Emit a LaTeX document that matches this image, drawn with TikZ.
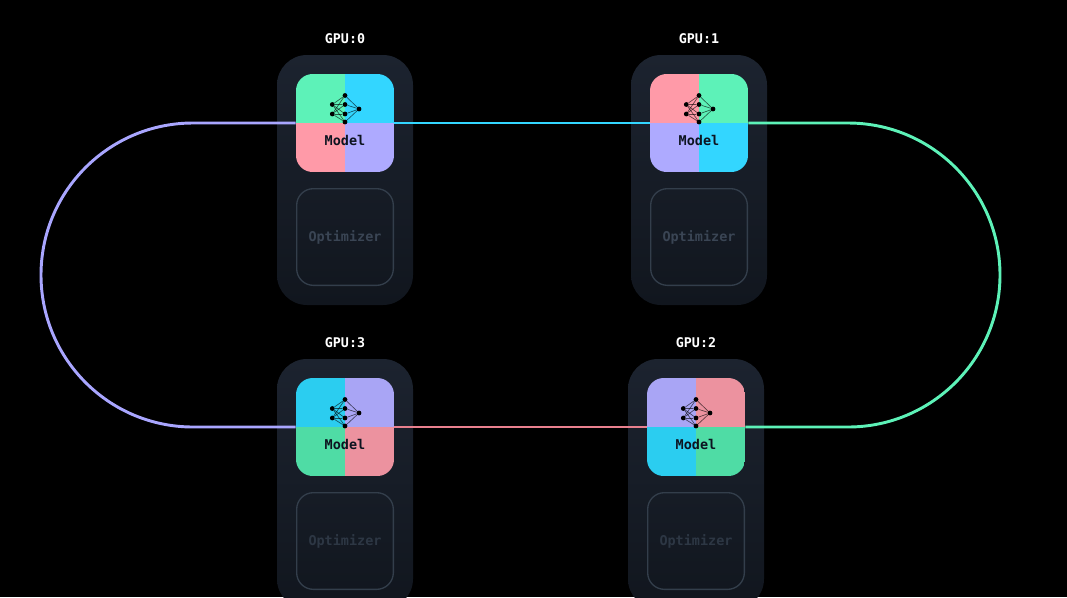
\documentclass[tikz,border=0pt]{standalone}
\usepackage{fontspec}
\setmonofont{DejaVu Sans Mono}
\definecolor{cgreen}{HTML}{5DF2B8}
\definecolor{cblue}{HTML}{33D6FF}
\definecolor{cpink}{HTML}{FF9AA8}
\definecolor{cpurple}{HTML}{AEAAFF}
\definecolor{dgreen}{HTML}{4FDCA5}
\definecolor{dblue}{HTML}{2BCDF0}
\definecolor{dpink}{HTML}{EC929F}
\definecolor{dpurple}{HTML}{A9A5F5}
\definecolor{cardtop}{HTML}{1C232F}
\definecolor{cardbot}{HTML}{11161E}
\definecolor{optline}{HTML}{333E4B}
\definecolor{opttext}{HTML}{3A4554}
\definecolor{opttextd}{HTML}{2D3744}
\definecolor{modeltext}{HTML}{0D1420}
\definecolor{linkpurple}{HTML}{A9A6FF}
\definecolor{linkblue}{HTML}{33D6FF}
\definecolor{linkgreen}{HTML}{5DF2B8}
\definecolor{linkpink}{HTML}{E8808E}
\tikzset{
  cardbox/.style={rectangle,rounded corners=22.5pt,minimum width=102pt,minimum height=187.5pt,inner sep=0pt,top color=cardtop,bottom color=cardbot,draw=none},
  modelbox/.style={rectangle,rounded corners=12.5pt,minimum width=73.5pt,minimum height=73.5pt,inner sep=0pt,draw=none},
  optbox/.style={rectangle,rounded corners=12.5pt,minimum width=72.5pt,minimum height=72.5pt,inner sep=0pt,draw=optline,line width=1pt,font=\ttfamily\fontsize{10.1pt}{12pt}\selectfont\bfseries},
  gputext/.style={text=white,inner sep=0pt,font=\ttfamily\fontsize{10pt}{12pt}\selectfont\bfseries},
  modeltitle/.style={text=modeltext,inner sep=0pt,font=\ttfamily\fontsize{10.1pt}{12pt}\selectfont\bfseries},
  dot/.style={circle,fill=black,inner sep=0pt,minimum size=3.6pt},
  synapse/.style={draw=black,draw opacity=.6,line width=.5pt},
  quad/.style={sharp corners,draw=none},
  link/.style={line width=2.2pt}
}
% #1 name, #2 x, #3 y, #4 label, #5-#8 TL TR BL BR, #9 optimizer text colour
\newcommand{\gpucard}[9]{
  \node[cardbox] (#1card) at (#2,#3+57) {};
  \node[gputext] (#1title) at (#2,#3-84.5) {#4};
  \node[modelbox,path picture={
    \fill[quad,#5] (path picture bounding box.north west) rectangle (path picture bounding box.center);
    \fill[quad,#6] (path picture bounding box.north east) rectangle (path picture bounding box.center);
    \fill[quad,#7] (path picture bounding box.south west) rectangle (path picture bounding box.center);
    \fill[quad,#8] (path picture bounding box.south east) rectangle (path picture bounding box.center);
  }] (#1) at (#2,#3) {};
  \node[modeltitle] (#1mtext) at (#2,#3+17.5) {Model};
  \node[optbox,text=#9] (#1opt) at (#2,#3+114) {Optimizer};
  \node[dot] (#1a1) at (#2-12.7,#3-18.5) {};
  \node[dot] (#1a2) at (#2-12.7,#3-9) {};
  \node[dot] (#1b1) at (#2,#3-27.5) {};
  \node[dot] (#1b2) at (#2,#3-18.5) {};
  \node[dot] (#1b3) at (#2,#3-9) {};
  \node[dot] (#1b4) at (#2,#3-1) {};
  \node[dot] (#1c) at (#2+14,#3-14) {};
  \foreach \i in {1,2}{\foreach \j in {1,2,3,4}{\draw[synapse] (#1a\i) -- (#1b\j);}}
  \foreach \j in {1,2,3,4}{\draw[synapse] (#1b\j) -- (#1c);}
}
\begin{document}
\begin{tikzpicture}[x=.75pt,y=-.75pt]
  \useasboundingbox (0,0) rectangle (1067,597);
  \clip (0,0) rectangle (1067,597);
  \fill[black] (0,0) rectangle (1067,597);
  \gpucard{g0}{345}{123}{GPU:0}{cgreen}{cblue}{cpink}{cpurple}{opttext}
  \gpucard{g1}{699}{123}{GPU:1}{cpink}{cgreen}{cpurple}{cblue}{opttext}
  \gpucard{g3}{345}{427}{GPU:3}{dblue}{dpurple}{dgreen}{dpink}{opttextd}
  \gpucard{g2}{696}{427}{GPU:2}{dpurple}{dpink}{dblue}{dgreen}{opttextd}
  \draw[link,linkblue] (g0.east) -- (g1.west);
  \draw[link,linkpink] (g3.east) -- (g2.west);
  \draw[link,linkpurple] (g0.west) -- (193,123) arc[start angle=270,end angle=90,radius=152] -- (g3.west);
  \draw[link,linkgreen] (g1.east) -- (848,123) arc[start angle=-90,end angle=90,radius=152] -- (g2.east);
\end{tikzpicture}
\end{document}
